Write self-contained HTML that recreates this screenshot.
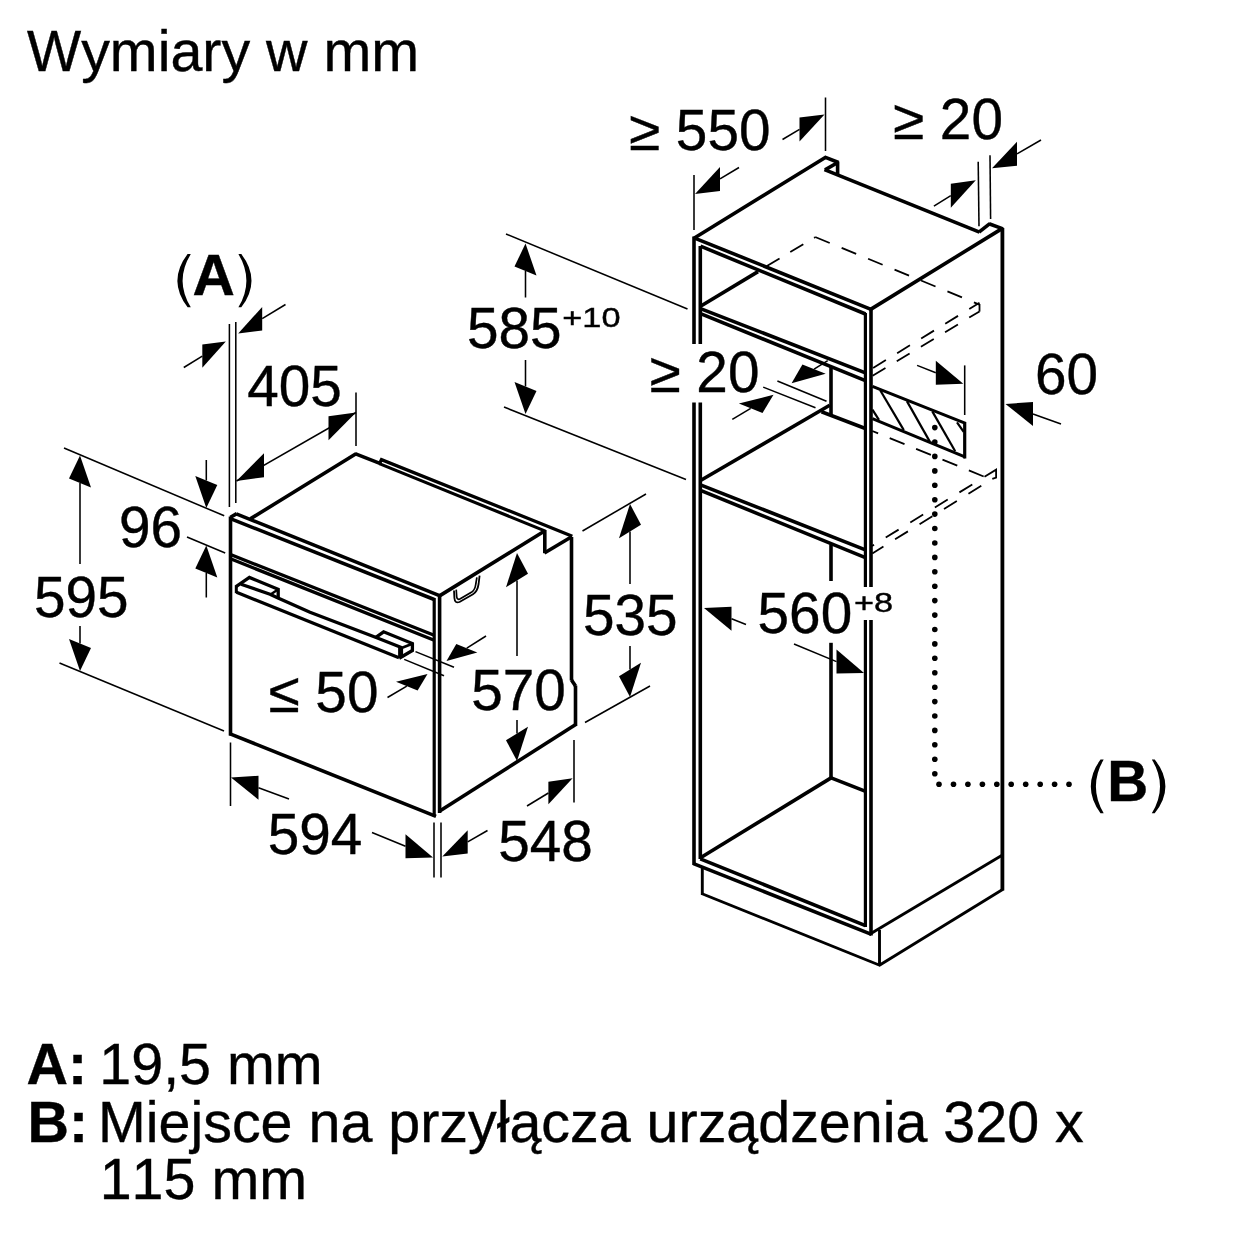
<!DOCTYPE html>
<html><head><meta charset="utf-8"><title>Wymiary w mm</title>
<style>
html,body{margin:0;padding:0;background:#fff;}
body{width:1240px;height:1240px;overflow:hidden;font-family:"Liberation Sans",sans-serif;}
svg{display:block;filter:blur(0.55px);}
svg text{font-family:"Liberation Sans",sans-serif;fill:#000;font-kerning:none;stroke:#000;stroke-width:0.4px;}
</style></head><body>
<svg width="1240" height="1240" viewBox="0 0 1240 1240" stroke="#000" stroke-linecap="butt" stroke-linejoin="miter" fill="none">
<rect x="0" y="0" width="1240" height="1240" fill="#fff" stroke="none"/>
<line x1="230.5" y1="516.5" x2="230.5" y2="735.5" stroke-width="3.6" />
<line x1="230.5" y1="517.3" x2="236.8" y2="513.6" stroke-width="3.6" />
<line x1="236.3" y1="513.9" x2="439.5" y2="595.7" stroke-width="3.5" />
<line x1="231.0" y1="518.9" x2="434.2" y2="599.5" stroke-width="3.5" />
<line x1="434.2" y1="598.0" x2="434.2" y2="816.5" stroke-width="3.2" />
<line x1="439.6" y1="594.5" x2="439.6" y2="813.0" stroke-width="3.6" />
<line x1="230.5" y1="554.5" x2="433.5" y2="635.0" stroke-width="3.3" />
<line x1="230.5" y1="558.8" x2="434.2" y2="640.2" stroke-width="3.3" />
<line x1="229.5" y1="733.6" x2="436.0" y2="816.3" stroke-width="3.6" />
<line x1="439.5" y1="595.9" x2="544.6" y2="531.0" stroke-width="3.6" />
<line x1="544.8" y1="530.0" x2="544.8" y2="553.2" stroke-width="3.6" />
<line x1="544.4" y1="553.0" x2="570.8" y2="537.2" stroke-width="3.6" />
<line x1="571.5" y1="537.0" x2="571.5" y2="680.5" stroke-width="3.6" />
<line x1="571.5" y1="680.0" x2="575.5" y2="686.0" stroke-width="3.6" />
<line x1="575.5" y1="685.5" x2="575.5" y2="725.5" stroke-width="3.6" />
<line x1="439.0" y1="811.5" x2="576.5" y2="724.0" stroke-width="3.6" />
<line x1="250.3" y1="518.9" x2="356.0" y2="453.8" stroke-width="3.6" />
<line x1="355.0" y1="453.6" x2="380.5" y2="463.6" stroke-width="3.6" />
<path d="M379.3,464.0 L381.5,459.6 L572.3,536.2" stroke-width="3.3" fill="none" />
<line x1="379.3" y1="463.6" x2="545.4" y2="531.1" stroke-width="3.1" />
<path d="M454,590.5 L454.4,598 Q454.8,603.8 459.5,602 L473,594.2 Q477.5,591.5 478.6,584 L479.6,575.6" stroke-width="1.8" fill="none"/>
<path d="M456.2,589.6 L456.7,596.8 Q457.2,600.4 460.3,598.8 L471.8,592 Q475,590 475.8,584 L476.9,577.4" stroke-width="1.7" fill="none"/>
<line x1="236.5" y1="592.3" x2="399.0" y2="657.8" stroke-width="3.3" />
<path d="M241.0,584.2 L270.0,594.3 L278.0,598.0 L310.0,612.3 L375.5,637.3 L402.0,647.8" stroke-width="3.3" fill="none" />
<line x1="236.3" y1="585.2" x2="236.3" y2="593.2" stroke-width="3.0" />
<path d="M236.0,586.6 L249.4,577.4 L278.2,589.3 L278.2,599.0" stroke-width="3.3" fill="none" />
<line x1="278.0" y1="589.5" x2="270.5" y2="594.6" stroke-width="2.4" />
<path d="M375.5,637.6 L383.6,631.8 L412.4,643.5 L412.4,650.5 L399.2,658.2" stroke-width="3.3" fill="none" />
<line x1="400.6" y1="647.0" x2="400.6" y2="657.6" stroke-width="5" />
<line x1="401.5" y1="648.0" x2="412.4" y2="643.8" stroke-width="2.6" />
<line x1="229.4" y1="324.0" x2="229.4" y2="507.0" stroke-width="1.55" />
<line x1="235.8" y1="322.0" x2="235.8" y2="503.0" stroke-width="1.55" />
<polygon points="238.2,333.4 262.2,330.4 262.2,307.0" fill="#000" stroke="none"/>
<line x1="262.2" y1="318.7" x2="285.5" y2="304.5" stroke-width="1.55" />
<polygon points="225.8,341.6 202.3,367.8 202.3,344.4" fill="#000" stroke="none"/>
<line x1="202.3" y1="356.1" x2="183.8" y2="367.5" stroke-width="1.55" />
<line x1="236.5" y1="481.0" x2="356.0" y2="412.5" stroke-width="1.55" />
<polygon points="236.5,481.0 264.0,477.2 264.0,453.2" fill="#000" stroke="none"/>
<polygon points="356.0,412.5 328.5,440.3 328.5,416.3" fill="#000" stroke="none"/>
<line x1="356.0" y1="392.5" x2="356.0" y2="446.0" stroke-width="1.55" />
<line x1="64.0" y1="448.0" x2="224.2" y2="515.8" stroke-width="1.55" />
<line x1="187.0" y1="537.0" x2="225.2" y2="553.0" stroke-width="1.55" />
<line x1="59.5" y1="663.0" x2="224.0" y2="731.0" stroke-width="1.55" />
<polygon points="206.3,508.0 217.3,484.9 195.3,476.1" fill="#000" stroke="none"/>
<line x1="206.3" y1="480.5" x2="206.3" y2="460.0" stroke-width="1.55" />
<polygon points="206.3,545.5 217.3,577.4 195.3,568.6" fill="#000" stroke="none"/>
<line x1="206.3" y1="573.0" x2="206.3" y2="597.5" stroke-width="1.55" />
<polygon points="80.0,455.5 91.0,487.4 69.0,478.6" fill="#000" stroke="none"/>
<line x1="80.0" y1="483.0" x2="80.0" y2="564.0" stroke-width="1.55" />
<polygon points="80.0,671.0 91.0,647.9 69.0,639.1" fill="#000" stroke="none"/>
<line x1="80.0" y1="643.5" x2="80.0" y2="626.0" stroke-width="1.55" />
<line x1="404.2" y1="659.4" x2="444.0" y2="675.8" stroke-width="1.55" />
<line x1="415.5" y1="651.6" x2="454.0" y2="667.3" stroke-width="1.55" />
<polygon points="427.5,674.0 417.6,690.5 396.0,681.8" fill="#000" stroke="none"/>
<line x1="406.8" y1="686.2" x2="387.5" y2="697.5" stroke-width="1.55" />
<polygon points="446.5,661.0 477.3,652.4 456.3,643.9" fill="#000" stroke="none"/>
<line x1="466.8" y1="648.2" x2="486.0" y2="636.0" stroke-width="1.55" />
<polygon points="517.0,553.0 528.0,573.7 506.0,587.3" fill="#000" stroke="none"/>
<line x1="517.0" y1="580.5" x2="517.0" y2="656.0" stroke-width="1.55" />
<polygon points="517.0,761.0 528.0,726.7 506.0,740.3" fill="#000" stroke="none"/>
<line x1="517.0" y1="733.5" x2="517.0" y2="720.0" stroke-width="1.55" />
<line x1="582.5" y1="531.0" x2="646.0" y2="494.0" stroke-width="1.55" />
<line x1="585.0" y1="722.5" x2="650.0" y2="686.0" stroke-width="1.55" />
<polygon points="630.0,504.0 641.0,524.7 619.0,538.3" fill="#000" stroke="none"/>
<line x1="630.0" y1="531.5" x2="630.0" y2="584.0" stroke-width="1.55" />
<polygon points="630.0,697.0 641.0,662.7 619.0,676.3" fill="#000" stroke="none"/>
<line x1="630.0" y1="669.5" x2="630.0" y2="646.0" stroke-width="1.55" />
<line x1="230.5" y1="742.5" x2="230.5" y2="806.0" stroke-width="1.55" />
<polygon points="231.0,777.5 258.5,799.7 258.5,775.7" fill="#000" stroke="none"/>
<line x1="258.5" y1="787.7" x2="289.0" y2="799.0" stroke-width="1.55" />
<polygon points="433.0,857.5 405.5,858.2 405.5,834.2" fill="#000" stroke="none"/>
<line x1="405.5" y1="846.2" x2="372.0" y2="832.5" stroke-width="1.55" />
<line x1="434.0" y1="822.5" x2="434.0" y2="877.5" stroke-width="1.55" />
<line x1="441.0" y1="822.5" x2="441.0" y2="877.5" stroke-width="1.55" />
<polygon points="442.3,856.5 467.7,853.6 467.7,830.2" fill="#000" stroke="none"/>
<line x1="467.7" y1="841.9" x2="487.5" y2="830.5" stroke-width="1.55" />
<polygon points="572.6,778.2 548.4,804.2 548.4,781.8" fill="#000" stroke="none"/>
<line x1="548.4" y1="793.0" x2="527.0" y2="806.0" stroke-width="1.55" />
<line x1="574.0" y1="740.0" x2="574.0" y2="802.5" stroke-width="1.55" />
<line x1="694.0" y1="236.5" x2="694.0" y2="344.0" stroke-width="3.6" />
<line x1="694.0" y1="402.5" x2="694.0" y2="865.0" stroke-width="3.6" />
<line x1="700.3" y1="246.0" x2="700.3" y2="344.0" stroke-width="3.6" />
<line x1="700.3" y1="402.5" x2="700.3" y2="859.0" stroke-width="3.6" />
<line x1="694.0" y1="238.3" x2="826.5" y2="156.7" stroke-width="3.6" />
<line x1="825.5" y1="157.3" x2="838.5" y2="162.5" stroke-width="3.6" />
<line x1="837.6" y1="161.5" x2="837.6" y2="175.0" stroke-width="3.6" />
<line x1="838.2" y1="162.3" x2="825.0" y2="169.9" stroke-width="3.6" />
<line x1="824.5" y1="169.7" x2="979.5" y2="232.2" stroke-width="3.6" />
<line x1="979.0" y1="232.2" x2="989.8" y2="223.6" stroke-width="3.6" />
<line x1="989.0" y1="223.7" x2="1003.0" y2="228.9" stroke-width="3.6" />
<line x1="694.0" y1="237.8" x2="871.0" y2="309.3" stroke-width="3.6" />
<line x1="700.5" y1="246.2" x2="865.5" y2="314.0" stroke-width="3.6" />
<line x1="870.2" y1="309.6" x2="1002.0" y2="228.6" stroke-width="3.6" />
<line x1="1002.4" y1="228.0" x2="1002.4" y2="890.5" stroke-width="3.8" />
<line x1="865.4" y1="313.0" x2="865.4" y2="587.0" stroke-width="3.2" />
<line x1="865.4" y1="620.0" x2="865.4" y2="927.0" stroke-width="3.2" />
<line x1="871.0" y1="309.0" x2="871.0" y2="587.0" stroke-width="3.6" />
<line x1="871.0" y1="620.0" x2="871.0" y2="935.5" stroke-width="3.6" />
<line x1="700.5" y1="306.3" x2="758.0" y2="271.6" stroke-width="3.6" />
<line x1="700.5" y1="308.6" x2="865.4" y2="372.9" stroke-width="3.6" />
<line x1="700.5" y1="313.6" x2="865.4" y2="380.6" stroke-width="3.6" />
<line x1="700.5" y1="480.5" x2="829.7" y2="405.2" stroke-width="3.6" />
<line x1="700.5" y1="484.8" x2="865.4" y2="549.8" stroke-width="3.6" />
<line x1="700.5" y1="490.3" x2="865.4" y2="557.7" stroke-width="3.6" />
<line x1="831.0" y1="366.5" x2="831.0" y2="415.0" stroke-width="3.6" />
<line x1="821.5" y1="411.8" x2="866.0" y2="428.8" stroke-width="3.6" />
<line x1="831.0" y1="544.5" x2="831.0" y2="581.0" stroke-width="3.6" />
<line x1="831.0" y1="642.8" x2="831.0" y2="778.0" stroke-width="3.6" />
<line x1="700.5" y1="857.8" x2="831.5" y2="777.6" stroke-width="3.6" />
<line x1="830.5" y1="777.6" x2="865.0" y2="791.2" stroke-width="3.6" />
<line x1="693.5" y1="863.6" x2="871.5" y2="934.4" stroke-width="3.6" />
<line x1="700.3" y1="858.8" x2="865.5" y2="925.6" stroke-width="3.6" />
<line x1="870.5" y1="933.8" x2="1002.5" y2="855.0" stroke-width="2.9" />
<line x1="702.3" y1="866.0" x2="702.3" y2="895.0" stroke-width="2.9" />
<line x1="701.5" y1="893.5" x2="880.3" y2="965.5" stroke-width="2.9" />
<line x1="879.5" y1="930.0" x2="879.5" y2="966.0" stroke-width="2.9" />
<line x1="879.0" y1="965.6" x2="1003.0" y2="889.3" stroke-width="2.9" />
<path d="M872.4,386.4 L965.6,423.4" stroke-width="3.0" fill="none" />
<line x1="964.7" y1="422.0" x2="964.7" y2="458.5" stroke-width="3.2" />
<line x1="872.4" y1="418.6" x2="965.5" y2="457.2" stroke-width="3.0" />
<line x1="872.4" y1="409.6" x2="879.0" y2="419.8" stroke-width="2.2" />
<line x1="880.2" y1="390.2" x2="903.8" y2="430.1" stroke-width="2.2" />
<line x1="906.9" y1="401.1" x2="929.8" y2="441.6" stroke-width="2.2" />
<line x1="932.3" y1="411.4" x2="955.2" y2="451.3" stroke-width="2.2" />
<line x1="957.0" y1="422.3" x2="963.7" y2="431.9" stroke-width="2.2" />
<line x1="766.5" y1="266.3" x2="815.0" y2="237.3" stroke-width="1.8" stroke-dasharray="15.2 12.5" stroke-dashoffset="0"/>
<line x1="815.2" y1="237.0" x2="979.5" y2="304.6" stroke-width="1.8" stroke-dasharray="15.7 12.9" stroke-dashoffset="0"/>
<line x1="979.5" y1="304.0" x2="979.5" y2="311.6" stroke-width="1.8" />
<line x1="979.5" y1="302.7" x2="872.0" y2="368.6" stroke-width="1.8" stroke-dasharray="15 13.2" stroke-dashoffset="3"/>
<line x1="979.5" y1="311.4" x2="872.0" y2="376.2" stroke-width="1.8" stroke-dasharray="15 13.2" stroke-dashoffset="3"/>
<line x1="872.3" y1="431.0" x2="984.5" y2="476.8" stroke-width="1.8" stroke-dasharray="16 12.5" stroke-dashoffset="9.7"/>
<path d="M984.5,476.8 L996.1,469.7 L996.1,477.6 L992.3,478.9" stroke-width="1.8" fill="none" />
<line x1="972.3" y1="484.5" x2="872.0" y2="545.9" stroke-width="1.8" stroke-dasharray="15.1 13.7" stroke-dashoffset="0"/>
<line x1="981.3" y1="485.8" x2="872.3" y2="553.5" stroke-width="1.8" stroke-dasharray="15.1 13.7" stroke-dashoffset="0"/>
<circle cx="934.8" cy="427.6" r="2.8" fill="#000" stroke="none"/>
<circle cx="934.8" cy="442.0" r="2.8" fill="#000" stroke="none"/>
<circle cx="934.8" cy="456.4" r="2.8" fill="#000" stroke="none"/>
<circle cx="934.8" cy="470.9" r="2.8" fill="#000" stroke="none"/>
<circle cx="934.8" cy="485.3" r="2.8" fill="#000" stroke="none"/>
<circle cx="934.8" cy="499.7" r="2.8" fill="#000" stroke="none"/>
<circle cx="934.8" cy="514.1" r="2.8" fill="#000" stroke="none"/>
<circle cx="934.8" cy="528.5" r="2.8" fill="#000" stroke="none"/>
<circle cx="934.8" cy="543.0" r="2.8" fill="#000" stroke="none"/>
<circle cx="934.8" cy="557.4" r="2.8" fill="#000" stroke="none"/>
<circle cx="934.8" cy="571.8" r="2.8" fill="#000" stroke="none"/>
<circle cx="934.8" cy="586.2" r="2.8" fill="#000" stroke="none"/>
<circle cx="934.8" cy="600.6" r="2.8" fill="#000" stroke="none"/>
<circle cx="934.8" cy="615.1" r="2.8" fill="#000" stroke="none"/>
<circle cx="934.8" cy="629.5" r="2.8" fill="#000" stroke="none"/>
<circle cx="934.8" cy="643.9" r="2.8" fill="#000" stroke="none"/>
<circle cx="934.8" cy="658.3" r="2.8" fill="#000" stroke="none"/>
<circle cx="934.8" cy="672.7" r="2.8" fill="#000" stroke="none"/>
<circle cx="934.8" cy="687.2" r="2.8" fill="#000" stroke="none"/>
<circle cx="934.8" cy="701.6" r="2.8" fill="#000" stroke="none"/>
<circle cx="934.8" cy="716.0" r="2.8" fill="#000" stroke="none"/>
<circle cx="934.8" cy="730.4" r="2.8" fill="#000" stroke="none"/>
<circle cx="934.8" cy="744.8" r="2.8" fill="#000" stroke="none"/>
<circle cx="934.8" cy="759.3" r="2.8" fill="#000" stroke="none"/>
<circle cx="934.8" cy="773.7" r="2.8" fill="#000" stroke="none"/>
<circle cx="939.0" cy="784.3" r="2.8" fill="#000" stroke="none"/>
<circle cx="953.5" cy="784.3" r="2.8" fill="#000" stroke="none"/>
<circle cx="967.9" cy="784.3" r="2.8" fill="#000" stroke="none"/>
<circle cx="982.4" cy="784.3" r="2.8" fill="#000" stroke="none"/>
<circle cx="996.8" cy="784.3" r="2.8" fill="#000" stroke="none"/>
<circle cx="1011.2" cy="784.3" r="2.8" fill="#000" stroke="none"/>
<circle cx="1025.7" cy="784.3" r="2.8" fill="#000" stroke="none"/>
<circle cx="1040.2" cy="784.3" r="2.8" fill="#000" stroke="none"/>
<circle cx="1054.6" cy="784.3" r="2.8" fill="#000" stroke="none"/>
<circle cx="1069.0" cy="784.3" r="2.8" fill="#000" stroke="none"/>
<line x1="825.5" y1="97.5" x2="825.5" y2="151.0" stroke-width="1.55" />
<polygon points="824.5,114.5 799.5,141.4 799.5,117.4" fill="#000" stroke="none"/>
<line x1="799.5" y1="129.4" x2="782.5" y2="139.5" stroke-width="1.55" />
<line x1="694.0" y1="175.0" x2="694.0" y2="230.0" stroke-width="1.55" />
<polygon points="695.0,194.0 720.0,190.9 720.0,166.9" fill="#000" stroke="none"/>
<line x1="720.0" y1="178.9" x2="739.0" y2="167.5" stroke-width="1.55" />
<line x1="978.2" y1="161.8" x2="979.0" y2="226.3" stroke-width="1.55" />
<line x1="990.0" y1="155.3" x2="990.6" y2="219.0" stroke-width="1.55" />
<polygon points="992.0,168.2 1017.0,165.8 1017.0,141.8" fill="#000" stroke="none"/>
<line x1="1017.0" y1="153.8" x2="1041.0" y2="140.0" stroke-width="1.55" />
<polygon points="975.8,180.3 950.8,207.7 950.8,183.7" fill="#000" stroke="none"/>
<line x1="950.8" y1="195.7" x2="933.9" y2="206.1" stroke-width="1.55" />
<line x1="506.0" y1="234.0" x2="687.5" y2="309.0" stroke-width="1.55" />
<line x1="504.0" y1="407.0" x2="686.0" y2="479.5" stroke-width="1.55" />
<polygon points="525.5,243.5 536.5,275.4 514.5,266.6" fill="#000" stroke="none"/>
<line x1="525.5" y1="271.0" x2="525.5" y2="297.5" stroke-width="1.55" />
<polygon points="525.5,414.0 536.5,390.9 514.5,382.1" fill="#000" stroke="none"/>
<line x1="525.5" y1="386.5" x2="525.5" y2="360.0" stroke-width="1.55" />
<line x1="777.4" y1="381.0" x2="826.5" y2="401.3" stroke-width="1.55" />
<line x1="763.2" y1="387.1" x2="815.5" y2="407.7" stroke-width="1.55" />
<polygon points="791.6,383.2 825.7,373.8 802.4,364.5" fill="#000" stroke="none"/>
<line x1="814.1" y1="369.1" x2="827.7" y2="360.6" stroke-width="1.55" />
<polygon points="773.5,394.8 762.5,413.1 738.9,403.6" fill="#000" stroke="none"/>
<line x1="750.7" y1="408.4" x2="732.3" y2="419.4" stroke-width="1.55" />
<line x1="964.7" y1="365.4" x2="964.7" y2="415.0" stroke-width="1.55" />
<polygon points="963.3,383.8 935.8,384.8 935.8,360.8" fill="#000" stroke="none"/>
<line x1="935.8" y1="372.8" x2="917.1" y2="365.4" stroke-width="1.55" />
<polygon points="1005.5,404.0 1033.0,425.9 1033.0,401.9" fill="#000" stroke="none"/>
<line x1="1033.0" y1="413.9" x2="1061.0" y2="424.0" stroke-width="1.55" />
<polygon points="704.0,608.0 731.5,630.8 731.5,606.8" fill="#000" stroke="none"/>
<line x1="731.5" y1="618.8" x2="746.0" y2="624.5" stroke-width="1.55" />
<polygon points="864.0,673.0 836.5,673.6 836.5,649.6" fill="#000" stroke="none"/>
<line x1="836.5" y1="661.6" x2="794.0" y2="644.0" stroke-width="1.55" />
<text x="27" y="71" font-size="57.4" font-weight="normal" >Wymiary w mm</text>
<path d="M187.6,254 Q167.2,280.7 187.6,307.3 L190.8,307.3 Q174.4,280.7 190.8,254 Z" fill="#000" stroke="none"/>
<path d="M241.3,254 Q261.7,280.7 241.3,307.3 L238.4,307.3 Q254.4,280.7 238.4,254 Z" fill="#000" stroke="none"/>
<text transform="translate(192.6,295) scale(1.035,1)" font-size="56.7" font-weight="bold">A</text>
<text x="247.3" y="406" font-size="56.7" font-weight="normal" >405</text>
<text x="119" y="546.7" font-size="56.7" font-weight="normal" >96</text>
<text x="34" y="616.8" font-size="56.7" font-weight="normal" >595</text>
<text x="268.5" y="711.7" font-size="56.7" font-weight="normal" >≤ 50</text>
<text x="471.3" y="709.5" font-size="56.7" font-weight="normal" >570</text>
<text x="583" y="634.5" font-size="56.7" font-weight="normal" >535</text>
<text x="267.8" y="854" font-size="56.7" font-weight="normal" >594</text>
<text x="498.2" y="861" font-size="56.7" font-weight="normal" >548</text>
<text x="629" y="149.5" font-size="56.7" font-weight="normal" >≥ 550</text>
<text x="893" y="138.7" font-size="56.7" font-weight="normal" >≥ 20</text>
<text x="466.9" y="348.3" font-size="56.7" font-weight="normal" >585</text>
<text transform="translate(562.3,327.2) scale(1.24,1)" font-size="27.7">+10</text>
<text x="649.5" y="391.7" font-size="56.7" font-weight="normal" >≥ 20</text>
<text x="1035" y="394" font-size="56.7" font-weight="normal" >60</text>
<text x="757.6" y="633.3" font-size="56.7" font-weight="normal" >560</text>
<text transform="translate(854,611.8) scale(1.24,1)" font-size="27.7">+8</text>
<path d="M1100.5,759.5 Q1081.1,786.4 1100.5,813.2 L1103.7,813.2 Q1088.1,786.4 1103.7,759.5 Z" fill="#000" stroke="none"/>
<path d="M1154.7,759.5 Q1176.1,786.4 1154.7,813.2 L1151.8,813.2 Q1168.2,786.4 1151.8,759.5 Z" fill="#000" stroke="none"/>
<text x="1107.3" y="801" font-size="56.7" font-weight="bold" >B</text>
<text x="26.5" y="1084" font-size="57.4" font-weight="bold" >A:</text>
<text x="99.3" y="1084" font-size="57.4" font-weight="normal" >19,5 mm</text>
<text x="27.5" y="1141.5" font-size="57.4" font-weight="bold" >B:</text>
<text x="98" y="1141.5" font-size="57.4" font-weight="normal" >Miejsce na przyłącza urządzenia 320 x</text>
<text x="99.7" y="1199" font-size="57.4" font-weight="normal" >115 mm</text>
</svg>
</body></html>
